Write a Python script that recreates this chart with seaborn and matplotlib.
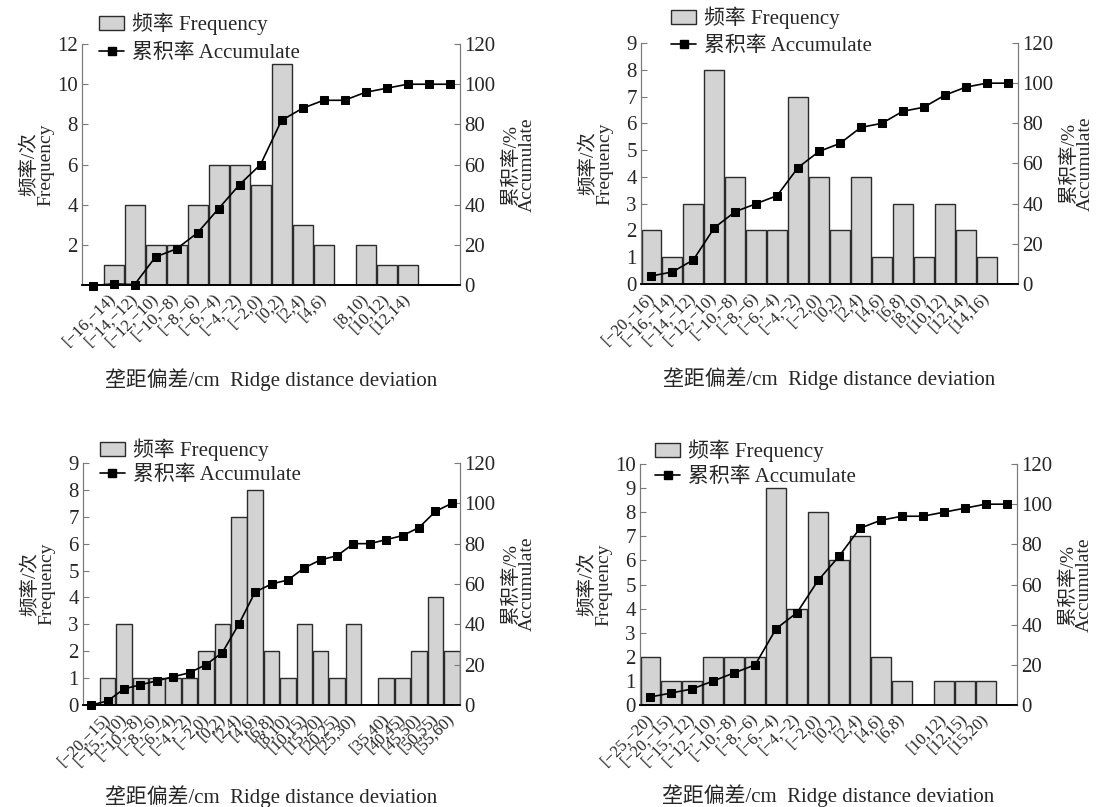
import numpy as np
import pandas as pd
import matplotlib.pyplot as plt
import seaborn as sns
from matplotlib.patches import Patch
from matplotlib.lines import Line2D

sns.set_style('white')
plt.rcParams['font.family'] = ['Liberation Serif', 'Noto Sans CJK SC']
plt.rcParams['axes.unicode_minus'] = True

# -----------------------------
# Data
# -----------------------------
labels_a = ['', '[-16,-14)', '[-14,-12)', '[-12,-10)', '[-10,-8)', '[-8,-6)',
            '[-6,-4)', '[-4,-2)', '[-2,0)', '[0,2)', '[2,4)', '[4,6)', '',
            '[8,10)', '[10,12)', '[12,14)', '', '']
freq_a = [0, 1, 4, 2, 2, 4, 6, 6, 5, 11, 3, 2, 0, 2, 1, 1, 0, 0]
cum_a = [-0.3, 0.6, 0.2, 14, 18, 26, 38, 50, 60, 82, 88, 92, 92, 96, 98,
         100, 100, 100]

labels_b = ['[-20,-16)', '[-16,-14)', '[-14,-12)', '[-12,-10)', '[-10,-8)',
            '[-8,-6)', '[-6,-4)', '[-4,-2)', '[-2,0)', '[0,2)', '[2,4)',
            '[4,6)', '[6,8)', '[8,10)', '[10,12)', '[12,14)', '[14,16)', '']
freq_b = [2, 1, 3, 8, 4, 2, 2, 7, 4, 2, 4, 1, 3, 1, 3, 2, 1, 0]
cum_b = [4, 6, 12, 28, 36, 40, 44, 58, 66, 70, 78, 80, 86, 88, 94, 98,
         100, 100]

labels_c = ['', '[-20,-15)', '[-15,-10)', '[-10,-8)', '[-8,-6)', '[-6,-4)',
            '[-4,-2)', '[-2,0)', '[0,2)', '[2,4)', '[4,6)', '[6,8)', '[8,10)',
            '[10,15)', '[15,20)', '[20,25)', '[25,30)', '', '[35,40)',
            '[40,45)', '[45,50)', '[50,55)', '[55,60)']
freq_c = [0, 1, 3, 1, 1, 1, 1, 2, 3, 7, 8, 2, 1, 3, 2, 1, 3, 0, 1, 1, 2, 4, 2]
cum_c = [0, 2, 8, 10, 12, 14, 16, 20, 26, 40, 56, 60, 62, 68, 72, 74, 80, 80,
         82, 84, 88, 96, 100]

labels_d = ['[-25,-20)', '[-20,-15)', '[-15,-12)', '[-12,-10)', '[-10,-8)',
            '[-8,-6)', '[-6,-4)', '[-4,-2)', '[-2,0)', '[0,2)', '[2,4)',
            '[4,6)', '[6,8)', '', '[10,12)', '[12,15)', '[15,20)', '']
freq_d = [2, 1, 1, 2, 2, 2, 9, 4, 8, 6, 7, 2, 1, 0, 1, 1, 1, 0]
cum_d = [4, 6, 8, 12, 16, 20, 38, 46, 62, 74, 88, 92, 94, 94, 96, 98,
         100, 100]

BAR_FACE = '#d3d3d3'
BAR_EDGE = '#2b2b2b'
SPINE_GRAY = '#7a7a7a'


def draw_panel(ax, labels, freq, cum, ymax, yticks, leg_anchor, leg_gap,
               xlab_y):
    n = len(freq)
    df = pd.DataFrame({'pos': np.arange(n), 'freq': freq, 'cum': cum})

    sns.barplot(data=df, x='pos', y='freq', order=list(range(n)),
                width=0.95, color=BAR_FACE, saturation=1,
                edgecolor=BAR_EDGE, linewidth=1.0, ax=ax)

    ax2 = ax.twinx()
    sns.lineplot(data=df, x='pos', y='cum', color='black', marker='s',
                 markersize=6, markeredgecolor='black', linewidth=1.2,
                 clip_on=False, ax=ax2, zorder=5)

    ax.set_xlim(-0.5, n - 0.5)
    ax.set_ylim(0, ymax)
    ax.set_yticks(yticks)
    ax2.set_ylim(0, 120)
    ax2.set_yticks(range(0, 121, 20))

    ax.set_xticks(range(n))
    ax.set_xticklabels([s.replace('-', '\u2212') for s in labels],
                       rotation=45, ha='right', va='center',
                       rotation_mode='anchor', fontsize=12)
    ax.tick_params(axis='x', length=0, pad=8)
    ax.tick_params(axis='y', direction='in', length=4, labelsize=15,
                   pad=3, color=SPINE_GRAY)
    ax2.tick_params(axis='y', direction='in', length=4, labelsize=15,
                    pad=3, color=SPINE_GRAY)

    for a in (ax, ax2):
        a.spines['top'].set_visible(False)
        a.spines['left'].set_color(SPINE_GRAY)
        a.spines['right'].set_color(SPINE_GRAY)
        a.spines['bottom'].set_color('black')
        a.spines['bottom'].set_linewidth(1.2)

    ax.set_xlabel('垄距偏差/cm  Ridge distance deviation', fontsize=15)
    ax.xaxis.set_label_coords(0.5, xlab_y)
    ax.set_ylabel('频率/次\nFrequency', fontsize=14, linespacing=0.95)
    ax.yaxis.set_label_coords(-0.072, 0.5)
    ax2.set_ylabel('累积率/%\nAccumulate', fontsize=14, linespacing=0.95)
    ax2.yaxis.set_label_coords(1.11, 0.5)

    handles = [Patch(facecolor=BAR_FACE, edgecolor=BAR_EDGE, linewidth=1.0),
               Line2D([0], [0], color='black', marker='s', markersize=6,
                      linewidth=1.2)]
    ax2.legend(handles, ['频率 Frequency', '累积率 Accumulate'],
               loc='upper left', bbox_to_anchor=leg_anchor, frameon=False,
               fontsize=15, handlelength=1.2, handleheight=0.6,
               handletextpad=0.4, labelspacing=leg_gap, borderaxespad=0,
               borderpad=0)


fig = plt.figure(figsize=(11.04, 8.07), dpi=100)
ax_a = fig.add_axes([0.0743, 0.6468, 0.3424, 0.2986])
ax_b = fig.add_axes([0.5806, 0.6481, 0.3415, 0.2986])
ax_c = fig.add_axes([0.0752, 0.1264, 0.3415, 0.2999])
ax_d = fig.add_axes([0.5797, 0.1264, 0.3415, 0.2986])

draw_panel(ax_a, labels_a, freq_a, cum_a, 12, range(2, 13, 2),
           (0.045, 1.13), 0.38, -0.345)
draw_panel(ax_b, labels_b, freq_b, cum_b, 9, range(0, 10),
           (0.08, 1.15), 0.36, -0.345)
draw_panel(ax_c, labels_c, freq_c, cum_c, 9, range(0, 10),
           (0.045, 1.1), 0.22, -0.33)
draw_panel(ax_d, labels_d, freq_d, cum_d, 10, range(0, 11),
           (0.04, 1.1), 0.24, -0.33)

plt.savefig('out.png', dpi=100)
